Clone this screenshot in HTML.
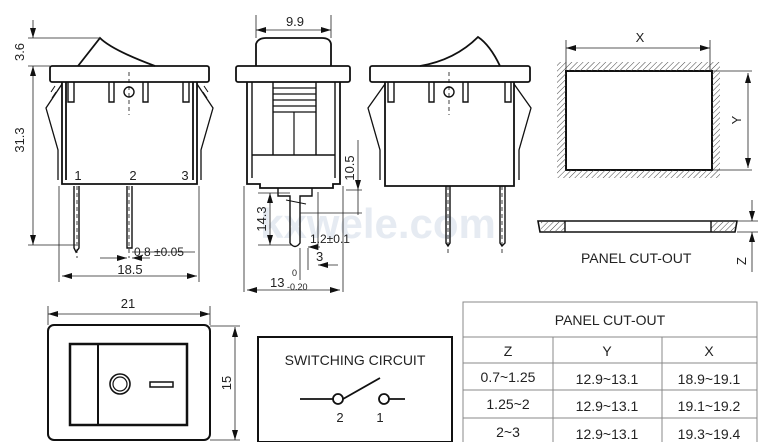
<!DOCTYPE html>
<html><head><meta charset="utf-8"><style>
html,body{margin:0;padding:0;background:#fff;width:766px;height:442px;overflow:hidden}
svg{display:block}
text{font-family:"Liberation Sans",sans-serif;fill:#222}
</style></head><body>
<svg width="766" height="442" viewBox="0 0 766 442" xmlns="http://www.w3.org/2000/svg">
<defs>
<pattern id="h" width="4" height="4" patternUnits="userSpaceOnUse" patternTransform="rotate(45)"><line x1="0" y1="0" x2="0" y2="4" stroke="#444" stroke-width="1"/></pattern>
<marker id="a" viewBox="0 0 10 6" refX="10" refY="3" markerWidth="10" markerHeight="6" orient="auto-start-reverse" markerUnits="userSpaceOnUse"><path d="M0,0L10,3L0,6z" fill="#111"/></marker>
</defs>
<text x="378" y="238" font-size="42" font-weight="bold" style="fill:#e6ebf2" text-anchor="middle">kxwele.com</text>
<g fill="none" stroke="#111" stroke-width="1.8">
<path d="M78,66 L100,38 Q112,50 155,66"/>
<rect x="50" y="66" width="159" height="16" rx="2"/>
<path d="M62,82 V184 H197 V82"/>
<path d="M66,82 V180 M193,82 V180"/>
<path d="M62,84 L46,108 L58,150 V180 M197,84 L213,108 L201,150 V180" stroke-width="1.3"/>
<path d="M51,92 L55,86 M52,98 L56,92 M208,92 L204,86 M207,98 L203,92" stroke-width="1"/>
<path d="M68,82V102H74V82 M109,82V102H114V82 M143,82V102H148V82 M183,82V102H189V82" stroke-width="1.4"/>
<circle cx="129" cy="92" r="5" stroke-width="1.4"/>
<path d="M74,186V248L76,252L79,248V186 M127,186V248H132V186" stroke-width="1.4"/>
<path d="M256,66 V44 Q258,38 266,38 H322 Q330,38 331,44 V66"/>
<rect x="236" y="66" width="114" height="16" rx="2"/>
<path d="M247,82 V184 H260 V188 H333 V184 H340 V82"/>
<path d="M252,82 V178 M335,82 V178 M273,82 V155 H316 V82 M252,155 H335" stroke-width="1.4"/>
<path d="M273,88H316M273,94H316M273,100H316M273,106H316M273,112H316M294,112V155" stroke-width="1.2"/>
<path d="M278,188 V196 H290 V243 Q295,250 300,243 V196 H312 V188" stroke-width="1.4"/>
<path d="M286,200 L306,204" stroke-width="1"/>
<path d="M420,66 Q455,60 478,37 Q490,45 500,66"/>
<rect x="370" y="66" width="160" height="16" rx="2"/>
<path d="M385,82 V186 H514 V82"/>
<path d="M385,84 L368,108 L380,150 V180 M514,84 L531,108 L519,150 V180" stroke-width="1.3"/>
<path d="M388,82V102H394V82 M429,82V102H434V82 M463,82V102H468V82 M505,82V102H511V82" stroke-width="1.4"/>
<circle cx="449" cy="92" r="5" stroke-width="1.4"/>
<path d="M446,186V243L448,246L450,243V186 M500,186V243L502,246L505,243V186" stroke-width="1.4"/>
<rect x="566" y="71" width="146" height="99" stroke-width="2"/>
<path d="M538,221 H737 L735,232 H540 Z" stroke-width="1.6"/>
<rect x="48" y="325" width="162" height="115" rx="6" stroke-width="2"/>
<rect x="70" y="344" width="117" height="81" stroke-width="2.5"/>
<line x1="98" y1="344" x2="98" y2="425" stroke-width="2"/>
<circle cx="120" cy="384" r="10" stroke-width="1.6"/><circle cx="120" cy="384" r="7" stroke-width="1.2"/>
<rect x="150" y="382" width="23" height="5" stroke-width="1.5"/>
<rect x="258" y="337" width="194" height="105" stroke-width="2"/>
<path d="M300,399H333 M343,399 L380,378 M389,399H405"/>
<circle cx="338" cy="399" r="5"/><circle cx="384" cy="399" r="5"/>
</g>
<g fill="url(#h)">
<path d="M557,62 H720 V178 H557 Z M566,71 V170 H712 V71 Z" fill-rule="evenodd"/>
<rect x="541" y="222" width="24" height="9"/><rect x="711" y="222" width="24" height="9"/>
</g>
<line x1="565" y1="221" x2="565" y2="232" stroke="#111" stroke-width="1.4"/>
<line x1="711" y1="221" x2="711" y2="232" stroke="#111" stroke-width="1.4"/>
<g stroke="#222" stroke-width="0.8" fill="none">
<path d="M28,38H100 M28,66H50 M28,245H76 M59,186V282 M199,186V282"/>
<line x1="33" y1="20" x2="33" y2="38" marker-end="url(#a)"/>
<line x1="33" y1="66" x2="33" y2="245" marker-start="url(#a)" marker-end="url(#a)"/>
<line x1="62" y1="276" x2="197" y2="276" marker-start="url(#a)" marker-end="url(#a)"/>
<line x1="100" y1="258" x2="127" y2="258" marker-end="url(#a)"/><line x1="150" y1="258" x2="132" y2="258" marker-end="url(#a)"/>
<line x1="132" y1="252" x2="195" y2="252"/>
<path d="M256,15V38 M331,15V38 M244,186V292 M343,186V292 M258,193H290 M258,245H292 M346,190H362 M300,248V280 M308,248V270 M318,192V250"/>
<line x1="256" y1="30" x2="331" y2="30" marker-start="url(#a)" marker-end="url(#a)"/>
<line x1="270" y1="193" x2="270" y2="245" marker-start="url(#a)" marker-end="url(#a)"/>
<line x1="358" y1="140" x2="358" y2="190" marker-end="url(#a)"/>
<path d="M358,190V215 M300,213H362"/>
<line x1="320" y1="247" x2="308" y2="247" marker-end="url(#a)"/>
<line x1="338" y1="265" x2="318" y2="265" marker-end="url(#a)"/>
<line x1="247" y1="290" x2="340" y2="290" marker-start="url(#a)" marker-end="url(#a)"/>
<path d="M566,40V71 M710,40V71 M712,71H752 M712,170H752 M737,221H758 M737,232H758"/>
<line x1="566" y1="48" x2="710" y2="48" marker-start="url(#a)" marker-end="url(#a)"/>
<line x1="748" y1="73" x2="748" y2="168" marker-start="url(#a)" marker-end="url(#a)"/>
<line x1="752" y1="200" x2="752" y2="221" marker-end="url(#a)"/>
<line x1="752" y1="272" x2="752" y2="232" marker-end="url(#a)"/>
<path d="M48,306V325 M210,306V325 M210,326H240 M210,440H240"/>
<line x1="48" y1="314" x2="210" y2="314" marker-start="url(#a)" marker-end="url(#a)"/>
<line x1="235" y1="327" x2="235" y2="440" marker-start="url(#a)" marker-end="url(#a)"/>
</g>
<g stroke="#111" stroke-width="0.8" stroke-dasharray="4,3"><path d="M129,72V115 M449,72V115 M77,186V258 M129,186V258 M448,186V256 M502,186V256"/></g>
<g font-size="13">
<text transform="translate(24,52) rotate(-90)" text-anchor="middle">3.6</text>
<text transform="translate(24,140) rotate(-90)" text-anchor="middle">31.3</text>
<text x="78" y="180" text-anchor="middle">1</text><text x="133" y="180" text-anchor="middle">2</text><text x="185" y="180" text-anchor="middle">3</text>
<text x="134" y="256" font-size="12">0.8 ±0.05</text>
<text x="130" y="274" text-anchor="middle">18.5</text>
<text x="295" y="26" text-anchor="middle">9.9</text>
<text transform="translate(266,219) rotate(-90)" text-anchor="middle">14.3</text>
<text transform="translate(354,168) rotate(-90)" text-anchor="middle">10.5</text>
<text x="310" y="243" font-size="12">1.2±0.1</text>
<text x="316" y="261">3</text>
<text x="270" y="287">13</text><text x="292" y="276" font-size="9">0</text><text x="287" y="290" font-size="9">-0.20</text>
<text x="640" y="42" text-anchor="middle">X</text>
<text transform="translate(741,120) rotate(-90)" text-anchor="middle">Y</text>
<text x="581" y="263" font-size="14">PANEL CUT-OUT</text>
<text transform="translate(746,261) rotate(-90)" text-anchor="middle">Z</text>
<text x="128" y="308" text-anchor="middle">21</text>
<text transform="translate(231,383) rotate(-90)" text-anchor="middle">15</text>
<text x="355" y="365" text-anchor="middle" font-size="14">SWITCHING CIRCUIT</text>
<text x="340" y="422" text-anchor="middle">2</text><text x="380" y="422" text-anchor="middle">1</text>
</g>
<g stroke="#888" stroke-width="1" fill="none">
<rect x="463" y="302" width="294" height="145"/>
<path d="M463,337H757 M463,363H757 M463,390H757 M463,418H757 M553,337V442 M662,337V442"/>
</g>
<g font-size="14" text-anchor="middle">
<text x="610" y="325">PANEL CUT-OUT</text>
<text x="508" y="356">Z</text><text x="607" y="356">Y</text><text x="709" y="356">X</text>
<text x="508" y="382">0.7~1.25</text><text x="607" y="384">12.9~13.1</text><text x="709" y="384">18.9~19.1</text>
<text x="508" y="409">1.25~2</text><text x="607" y="411">12.9~13.1</text><text x="709" y="411">19.1~19.2</text>
<text x="508" y="437">2~3</text><text x="607" y="439">12.9~13.1</text><text x="709" y="439">19.3~19.4</text>
</g>
</svg>
</body></html>
